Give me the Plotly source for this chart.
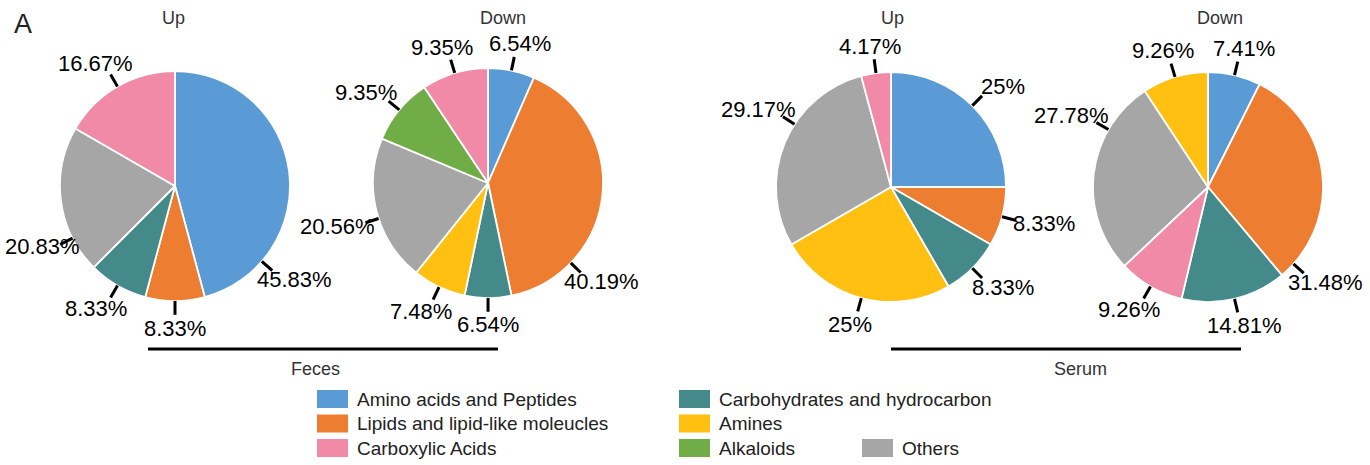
import math
import plotly.graph_objects as go

W, H = 1370, 465

# ---------------- data ----------------
categories = ["Amino acids and Peptides", "Lipids and lipid-like moleucles", "Carboxylic Acids",
              "Carbohydrates and hydrocarbon", "Amines", "Alkaloids", "Others"]
cat_colors = ["#5B9BD5", "#ED7D31", "#F08AA6", "#458A8B", "#FFC012", "#70AD47", "#A6A6A6"]

feces_up_labels = ["Amino acids and Peptides", "Lipids and lipid-like moleucles",
                   "Carbohydrates and hydrocarbon", "Others", "Carboxylic Acids"]
feces_up_values = [45.83, 8.33, 8.33, 20.83, 16.67]

feces_down_labels = ["Amino acids and Peptides", "Lipids and lipid-like moleucles",
                     "Carbohydrates and hydrocarbon", "Amines", "Others", "Alkaloids", "Carboxylic Acids"]
feces_down_values = [6.54, 40.19, 6.54, 7.48, 20.56, 9.35, 9.35]

serum_up_labels = ["Amino acids and Peptides", "Lipids and lipid-like moleucles",
                   "Carbohydrates and hydrocarbon", "Amines", "Others", "Carboxylic Acids"]
serum_up_values = [25, 8.33, 8.33, 25, 29.17, 4.17]

serum_down_labels = ["Amino acids and Peptides", "Lipids and lipid-like moleucles",
                     "Carbohydrates and hydrocarbon", "Carboxylic Acids", "Others", "Amines"]
serum_down_values = [7.41, 31.48, 14.81, 9.26, 27.78, 9.26]

panel_titles = ["Up", "Down", "Up", "Down"]
group_names = ["Feces", "Serum"]

# ---------------- layout / style ----------------
FONT = "Liberation Sans, Arial, Helvetica, sans-serif"
pie_centers = [(175, 186), (488, 183), (891, 187), (1208, 187)]   # px
R = 115
LABEL_RX, LABEL_RY = 158, 142   # elliptical label distance (px)
# label placement overrides: (pie, slice) -> (angle deg clockwise from 12 o'clock, distance scale)
label_override = {(0, 0): (131, 1.0), (0, 3): (243, 0.94), (1, 1): (134, 1.0), (1, 4): (252, 1.0),
                  (2, 4): (303, 1.0), (3, 1): (132, 1.0), (3, 4): (300, 1.0)}
title_pos = [(173, 18), (503, 18), (892, 18), (1220, 18)]
group_lines = [(148, 498, 349), (891, 1241, 349)]
group_label_pos = [(315, 369), (1080, 369)]
legend_cols_x = [317, 679, 862]
legend_rows_y = [399, 423.5, 448]
legend_slots = [(0, 0), (0, 1), (0, 2), (1, 0), (1, 1), (1, 2), (2, 2)]

color_of = dict(zip(categories, cat_colors))


def px(x):
    return x / W


def py(y):
    return 1 - y / H


pies = [(feces_up_labels, feces_up_values), (feces_down_labels, feces_down_values),
        (serum_up_labels, serum_up_values), (serum_down_labels, serum_down_values)]

fig = go.Figure()
annotations = []
shapes = []

for k, (labels, values) in enumerate(pies):
    cx, cy = pie_centers[k]
    fig.add_trace(go.Pie(
        labels=labels, values=values, sort=False, direction="clockwise", rotation=0,
        textinfo="none", showlegend=False, hoverinfo="label+percent",
        marker=dict(colors=[color_of[l] for l in labels], line=dict(color="white", width=1.8)),
        domain=dict(x=[px(cx - R), px(cx + R)], y=[py(cy + R), py(cy - R)]),
    ))
    total = sum(values)
    cum = 0.0
    for i, v in enumerate(values):
        ang = (cum + v / 2) / total * 360
        cum += v
        ang, scale = label_override.get((k, i), (ang, 1.0))
        t = math.radians(ang)
        sx, sy = math.sin(t), -math.cos(t)
        shapes.append(dict(type="line", xref="paper", yref="paper",
                           x0=px(cx + sx * R * 1.0), y0=py(cy + sy * R * 1.0),
                           x1=px(cx + sx * R * 1.12), y1=py(cy + sy * R * 1.12),
                           line=dict(color="black", width=3)))
        annotations.append(dict(x=px(cx + sx * LABEL_RX * scale), y=py(cy + sy * LABEL_RY * scale),
                                xref="paper", yref="paper", showarrow=False,
                                text=f"{v:g}%", xanchor="center", yanchor="middle",
                                font=dict(family=FONT, size=22, color="black")))

# panel titles
for (tx, ty), t in zip(title_pos, panel_titles):
    annotations.append(dict(x=px(tx), y=py(ty), xref="paper", yref="paper", showarrow=False,
                            text=t, xanchor="center", yanchor="middle",
                            font=dict(family=FONT, size=18, color="#333333")))

# group lines and labels
for (x0, x1, y), (gx, gy), g in zip(group_lines, group_label_pos, group_names):
    shapes.append(dict(type="line", xref="paper", yref="paper", x0=px(x0), x1=px(x1),
                       y0=py(y), y1=py(y), line=dict(color="black", width=3)))
    annotations.append(dict(x=px(gx), y=py(gy), xref="paper", yref="paper", showarrow=False,
                            text=g, xanchor="center", yanchor="middle",
                            font=dict(family=FONT, size=18, color="#333333")))

# panel letter
annotations.append(dict(x=px(23), y=py(24), xref="paper", yref="paper", showarrow=False,
                        text="A", xanchor="center", yanchor="middle",
                        font=dict(family=FONT, size=27, color="#222222")))

# legend (column-major grid)
for (cat, col), (c, r) in zip(zip(categories, cat_colors), legend_slots):
    bx, by = legend_cols_x[c], legend_rows_y[r]
    shapes.append(dict(type="rect", xref="paper", yref="paper",
                       x0=px(bx), x1=px(bx + 31), y0=py(by + 9), y1=py(by - 9),
                       fillcolor=col, line=dict(width=0)))
    annotations.append(dict(x=px(bx + 38), y=py(by), xref="paper", yref="paper", showarrow=False,
                            text=cat, xanchor="left", yanchor="middle",
                            font=dict(family=FONT, size=19, color="#222222")))

fig.update_layout(width=W, height=H, margin=dict(l=0, r=0, t=0, b=0),
                  paper_bgcolor="white", plot_bgcolor="white",
                  annotations=annotations, shapes=shapes, showlegend=False)

fig.write_html("out.html", config={"displayModeBar": False},
               post_script="document.body.style.margin='0px';")
